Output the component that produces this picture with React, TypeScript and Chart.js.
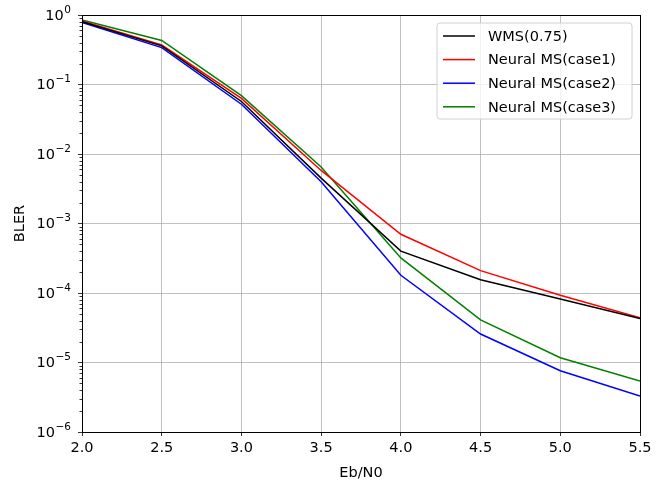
import React, { useEffect, useRef } from "react";
import { Chart, registerables } from "chart.js";

Chart.register(...registerables);

const ebN0 = [2.0, 2.5, 3.0, 3.5, 4.0, 4.5, 5.0, 5.5];
const wms075 = [0.8, 0.36, 0.057, 0.0045, 4.0e-4, 1.55e-4, 8.2e-5, 4.3e-5];
const neuralCase1 = [0.82, 0.37, 0.063, 0.0058, 7.0e-4, 2.1e-4, 9.3e-5, 4.4e-5];
const neuralCase2 = [0.78, 0.34, 0.052, 0.004, 1.8e-4, 2.57e-5, 7.6e-6, 3.3e-6];
const neuralCase3 = [0.85, 0.43, 0.069, 0.0065, 3.2e-4, 4.1e-5, 1.17e-5, 5.4e-6];

const seriesNames = ["WMS(0.75)", "Neural MS(case1)", "Neural MS(case2)", "Neural MS(case3)"];
const seriesColors = ["#000000", "#ff0000", "#0000ff", "#008000"];
const yMajorTicks = [1e-6, 1e-5, 1e-4, 1e-3, 1e-2, 1e-1, 1e0];
const yTickBase = "10";
const yTickExponents = ["−6", "−5", "−4", "−3", "−2", "−1", "0"];

const FONT = "DejaVu Sans";
const FS = 14.5;
const FS_SUP = 10.5;

const framePlugin = {
  id: "framePlugin",
  afterDatasetsDraw(chart: any) {
    const { ctx, chartArea } = chart;
    const ys = chart.scales.y;
    ctx.save();
    // minor ticks
    ctx.strokeStyle = "#000";
    ctx.lineWidth = 0.8;
    for (let e = -6; e < 0; e++) {
      for (let k = 2; k <= 9; k++) {
        const py = Math.round(ys.getPixelForValue(k * Math.pow(10, e))) + 0.5;
        ctx.beginPath();
        ctx.moveTo(chartArea.left - 2.5, py);
        ctx.lineTo(chartArea.left, py);
        ctx.stroke();
      }
    }
    // frame
    ctx.lineWidth = 1;
    ctx.strokeStyle = "#000";
    ctx.strokeRect(
      Math.round(chartArea.left) + 0.5,
      Math.round(chartArea.top) + 0.5,
      Math.round(chartArea.right - chartArea.left),
      Math.round(chartArea.bottom - chartArea.top)
    );
    // y tick labels with superscript exponents
    ctx.fillStyle = "#000";
    ctx.textBaseline = "middle";
    const rightEdge = chartArea.left - 11;
    yMajorTicks.forEach((v, i) => {
      const py = ys.getPixelForValue(v);
      ctx.font = `${FS_SUP}px "${FONT}"`;
      ctx.textAlign = "right";
      const supW = ctx.measureText(yTickExponents[i]).width;
      ctx.fillText(yTickExponents[i], rightEdge, py - 5);
      ctx.font = `${FS}px "${FONT}"`;
      ctx.fillText(yTickBase, rightEdge - supW - 0.5, py + 1);
    });
    // legend
    const lx = 437, ly = 23, lw = 195, lh = 96, r = 3;
    ctx.beginPath();
    ctx.moveTo(lx + r, ly);
    ctx.lineTo(lx + lw - r, ly);
    ctx.arcTo(lx + lw, ly, lx + lw, ly + r, r);
    ctx.lineTo(lx + lw, ly + lh - r);
    ctx.arcTo(lx + lw, ly + lh, lx + lw - r, ly + lh, r);
    ctx.lineTo(lx + r, ly + lh);
    ctx.arcTo(lx, ly + lh, lx, ly + lh - r, r);
    ctx.lineTo(lx, ly + r);
    ctx.arcTo(lx, ly, lx + r, ly, r);
    ctx.closePath();
    ctx.fillStyle = "rgba(255,255,255,0.8)";
    ctx.fill();
    ctx.strokeStyle = "#d0d0d0";
    ctx.lineWidth = 1;
    ctx.stroke();
    ctx.font = `${FS}px "${FONT}"`;
    ctx.textBaseline = "middle";
    ctx.textAlign = "left";
    seriesNames.forEach((name, i) => {
      const yy = 36 + i * 23.6;
      ctx.strokeStyle = seriesColors[i];
      ctx.lineWidth = 1.5;
      ctx.beginPath();
      ctx.moveTo(443, yy);
      ctx.lineTo(475, yy);
      ctx.stroke();
      ctx.fillStyle = "#000";
      ctx.fillText(name, 488, yy + 1);
    });
    ctx.restore();
  },
};

export default function App() {
  const ref = useRef<HTMLCanvasElement | null>(null);
  useEffect(() => {
    document.body.style.margin = "0";
    const allSeries = [wms075, neuralCase1, neuralCase2, neuralCase3];
    const chart = new Chart(ref.current as HTMLCanvasElement, {
      type: "line",
      data: {
        datasets: allSeries.map((vals, i) => ({
          label: seriesNames[i],
          data: ebN0.map((x, j) => ({ x, y: vals[j] })),
          borderColor: seriesColors[i],
          backgroundColor: seriesColors[i],
          borderWidth: 1.5,
          pointRadius: 0,
          tension: 0,
          fill: false,
        })),
      },
      options: {
        animation: false,
        responsive: false,
        layout: { padding: { left: 0, right: 22, top: 15, bottom: 0 } },
        plugins: { legend: { display: false }, tooltip: { enabled: false } },
        scales: {
          x: {
            type: "linear",
            min: 2,
            max: 5.5,
            afterFit: (s: any) => { s.height = 52; },
            afterBuildTicks: (s: any) => { s.ticks = ebN0.map((v) => ({ value: v })); },
            ticks: {
              callback: (v: any) => Number(v).toFixed(1),
              color: "#000",
              font: { family: FONT, size: FS },
              padding: 4,
              maxRotation: 0,
            },
            grid: { color: "#b0b0b0", lineWidth: 0.8, tickColor: "#000", tickLength: 4 },
            border: { display: false },
            title: {
              display: true,
              text: "Eb/N0",
              color: "#000",
              font: { family: FONT, size: FS },
              padding: { top: 0, bottom: 2 },
            },
          },
          y: {
            type: "logarithmic",
            min: 1e-6,
            max: 1,
            afterFit: (s: any) => { s.width = 82; },
            afterBuildTicks: (s: any) => { s.ticks = yMajorTicks.map((v) => ({ value: v })); },
            ticks: {
              callback: () => "",
              color: "#000",
              font: { family: FONT, size: FS },
              padding: 5,
            },
            grid: { color: "#b0b0b0", lineWidth: 0.8, tickColor: "#000", tickLength: 4 },
            border: { display: false },
            title: {
              display: true,
              text: "BLER",
              color: "#000",
              font: { family: FONT, size: FS },
              padding: { top: 12, bottom: 0 },
            },
          },
        },
      },
      plugins: [framePlugin],
    } as any);
    return () => chart.destroy();
  }, []);
  return (
    <div style={{ position: "fixed", left: 0, top: 0, width: 662, height: 484, background: "#fff" }}>
      <canvas ref={ref} width={662} height={484} />
    </div>
  );
}
